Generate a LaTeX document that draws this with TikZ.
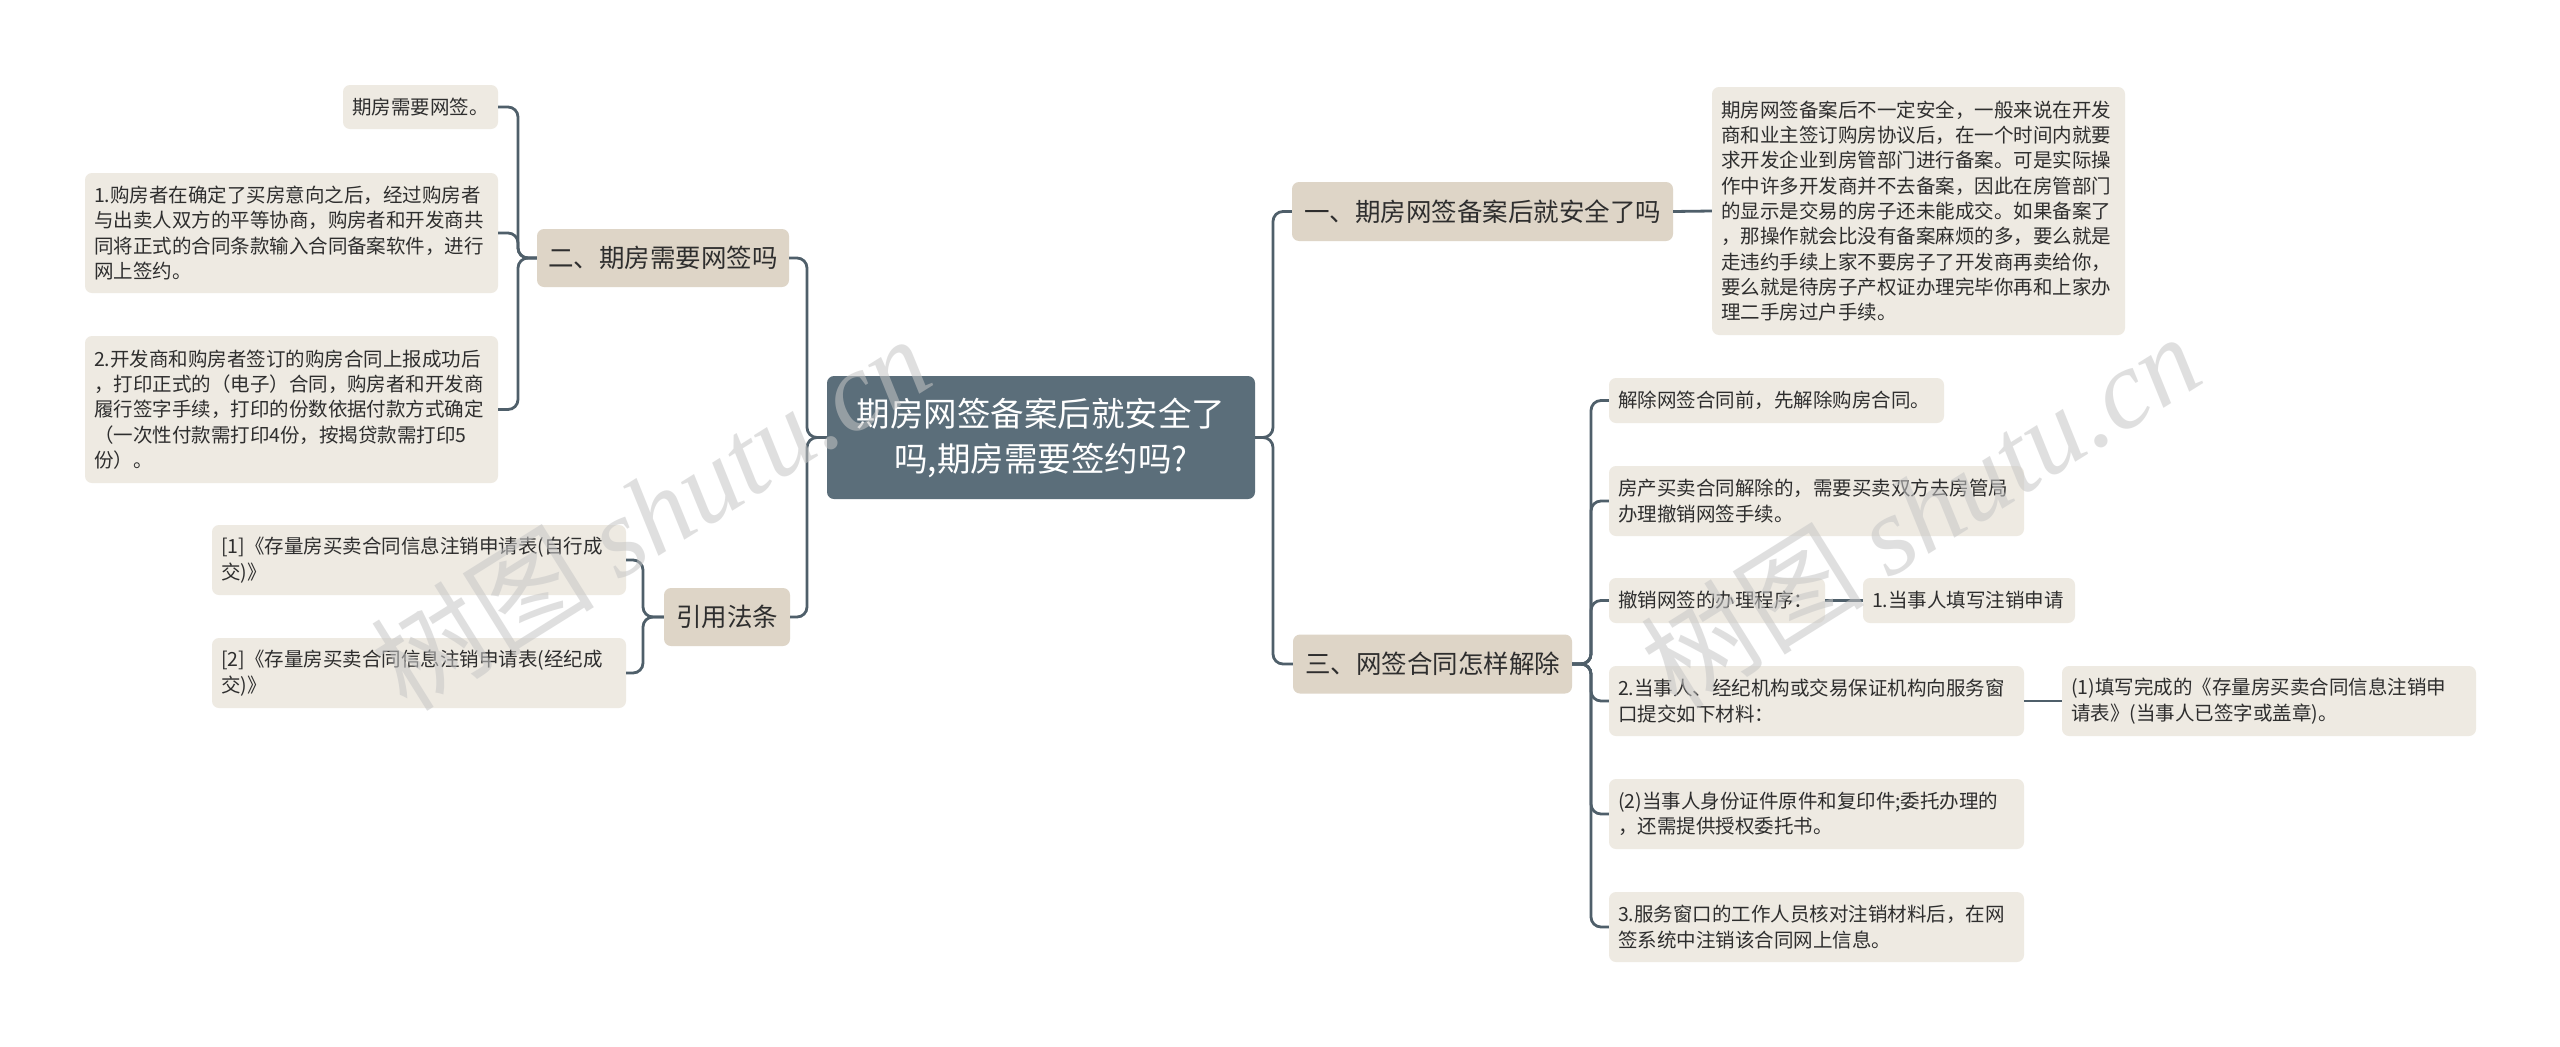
\documentclass[tikz,border=0pt]{standalone}
\usepackage{fontspec}
\setmainfont{Noto Sans CJK SC}
\newfontfamily\wmfont{Liberation Serif}
\usetikzlibrary{calc}
\definecolor{centralfill}{HTML}{5B6E7A}
\definecolor{lvonefill}{HTML}{DED5C7}
\definecolor{leaffill}{HTML}{EEEAE2}
\definecolor{connclr}{HTML}{4F5F6A}
\definecolor{txtclr}{HTML}{2E2E2E}
\tikzset{
  basebox/.style={rounded corners=7pt, inner ysep=0pt, anchor=center, text=txtclr},
  leafbox/.style n args={2}{basebox, fill=leaffill, inner xsep=9pt, align=left,
     text width=#1, minimum height=#2, font=\fontsize{19.5}{25.3}\selectfont},
  lvbox/.style n args={2}{basebox, fill=lvonefill, inner xsep=0pt, align=center,
     minimum width=#1, minimum height=#2, font=\fontsize{25.5}{30}\selectfont},
  rootbox/.style={basebox, fill=centralfill, text=white, align=center, inner xsep=0pt,
     minimum width=428pt, minimum height=123pt, font=\fontsize{33.5}{45}\selectfont},
  conn/.style={draw=connclr, line width=2.8pt, rounded corners=10pt},
  wm/.style={text=gray!45, opacity=0.55, font=\fontsize{112}{112}\selectfont, inner sep=0pt}
}
\begin{document}
\begin{tikzpicture}[x=1pt,y=-1pt]
\fill[white] (0,0) rectangle (2560,1047);
\useasboundingbox (0,0) rectangle (2560,1047);

% trunk coordinates
\coordinate (vL) at (807,0);
\coordinate (vR) at (1273,0);
\coordinate (v2) at (518,0);
\coordinate (v5) at (643,0);
\coordinate (v3) at (1591,0);

% root
\node[rootbox] (root) at (1041,437.5) {期房网签备案后就安全了\\吗,期房需要签约吗?};

% level one
\node[lvbox={252pt}{58pt}] (n2) at (663,258) {二、期房需要网签吗};
\node[lvbox={126pt}{58pt}] (nref) at (727,617) {引用法条};
\node[lvbox={381pt}{59pt}] (n1) at (1482.5,211.5) {一、期房网签备案后就安全了吗};
\node[lvbox={279pt}{59pt}] (n3) at (1432.5,664) {三、网签合同怎样解除};

% left leaves
\node[leafbox={137pt}{44pt}] (l1) at (420.5,107) {期房需要网签。};
\node[leafbox={395pt}{120pt}] (l2) at (291.5,233) {1.购房者在确定了买房意向之后，经过购房者\\与出卖人双方的平等协商，购房者和开发商共\\同将正式的合同条款输入合同备案软件，进行\\网上签约。};
\node[leafbox={395pt}{147pt}] (l3) at (291.5,409.5) {2.开发商和购房者签订的购房合同上报成功后\\，打印正式的（电子）合同，购房者和开发商\\履行签字手续，打印的份数依据付款方式确定\\（一次性付款需打印4份，按揭贷款需打印5\\份）。};
\node[leafbox={396pt}{70pt}] (r1) at (419,560) {[1]《存量房买卖合同信息注销申请表(自行成\\交)》};
\node[leafbox={396pt}{70pt}] (r2) at (419,673) {[2]《存量房买卖合同信息注销申请表(经纪成\\交)》};

% right leaves
\node[leafbox={395pt}{248pt}] (t1) at (1918.5,211) {期房网签备案后不一定安全，一般来说在开发\\商和业主签订购房协议后，在一个时间内就要\\求开发企业到房管部门进行备案。可是实际操\\作中许多开发商并不去备案，因此在房管部门\\的显示是交易的房子还未能成交。如果备案了\\，那操作就会比没有备案麻烦的多，要么就是\\走违约手续上家不要房子了开发商再卖给你，\\要么就是待房子产权证办理完毕你再和上家办\\理二手房过户手续。};
\node[leafbox={317pt}{45pt}] (a1) at (1776.5,400.5) {解除网签合同前，先解除购房合同。};
\node[leafbox={397pt}{70pt}] (a2) at (1816.5,501) {房产买卖合同解除的，需要买卖双方去房管局\\办理撤销网签手续。};
\node[leafbox={198pt}{45pt}] (a3) at (1717,600.5) {撤销网签的办理程序：};
\node[leafbox={194pt}{45pt}] (a3b) at (1969,600.5) {1.当事人填写注销申请};
\node[leafbox={397pt}{70pt}] (a4) at (1816.5,701) {2.当事人、经纪机构或交易保证机构向服务窗\\口提交如下材料：};
\node[leafbox={396pt}{70pt}] (a4b) at (2269,701) {(1)填写完成的《存量房买卖合同信息注销申\\请表》(当事人已签字或盖章)。};
\node[leafbox={397pt}{70pt}] (a5) at (1816.5,814) {(2)当事人身份证件原件和复印件;委托办理的\\，还需提供授权委托书。};
\node[leafbox={397pt}{70pt}] (a6) at (1816.5,927) {3.服务窗口的工作人员核对注销材料后，在网\\签系统中注销该合同网上信息。};

% connectors from root
\draw[conn] (root.west) -- (root.west -| vL) |- (n2.east);
\draw[conn] (root.west) -- (root.west -| vL) |- (nref.east);
\draw[conn] (root.east) -- (root.east -| vR) |- (n1.west);
\draw[conn] (root.east) -- (root.east -| vR) |- (n3.west);

% level two
\draw[conn] (n2.west) -- (n2.west -| v2) |- (l1.east);
\draw[conn] (n2.west) -- (n2.west -| v2) |- (l2.east);
\draw[conn] (n2.west) -- (n2.west -| v2) |- (l3.east);
\draw[conn] (nref.west) -- (nref.west -| v5) |- (r1.east);
\draw[conn] (nref.west) -- (nref.west -| v5) |- (r2.east);
\draw[conn] (n1.east) -- (t1.west);
\draw[conn] (n3.east) -- (n3.east -| v3) |- (a1.west);
\draw[conn] (n3.east) -- (n3.east -| v3) |- (a2.west);
\draw[conn] (n3.east) -- (n3.east -| v3) |- (a3.west);
\draw[conn] (n3.east) -- (n3.east -| v3) |- (a4.west);
\draw[conn] (n3.east) -- (n3.east -| v3) |- (a5.west);
\draw[conn] (n3.east) -- (n3.east -| v3) |- (a6.west);
\draw[conn] (a3.east) -- (a3b.west);
\draw[conn] (a4.east) -- (a4b.west);

% watermarks
\node[wm, rotate=32] (wm1) at (650,512) {树图 {\wmfont\itshape shutu.cn}};
\node[wm, rotate=32] (wm2) at (1920,510) {树图 {\wmfont\itshape shutu.cn}};
\end{tikzpicture}
\end{document}
